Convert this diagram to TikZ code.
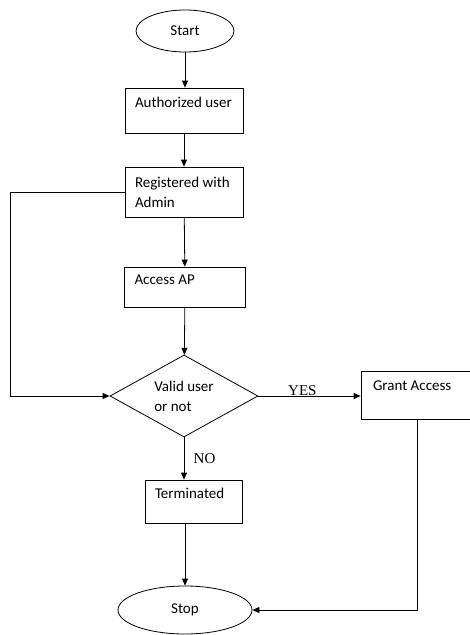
\documentclass[tikz,border=0pt]{standalone}
\usepackage{fontspec}
\setmainfont{Carlito}
\newfontfamily\yesnofont{Liberation Serif}
\usetikzlibrary{shapes.geometric, arrows.meta}

\begin{document}
\begin{tikzpicture}[x=1pt, y=-1pt,
          every node/.style={font=\fontsize{15}{20}\selectfont},
          term/.style={ellipse, draw, line width=0.8pt, inner sep=0pt},
          box/.style={rectangle, draw, line width=0.8pt, align=flush left,
                      inner xsep=10pt, inner ysep=0pt},
          decide/.style={diamond, draw, line width=0.8pt, align=flush left,
                         inner sep=0pt, shape aspect=1.8},
          arr/.style={-{Triangle[length=7pt, width=6pt]}, line width=0.8pt},
          yesno/.style={font=\yesnofont\fontsize{15}{18}\selectfont}
        ]
        \clip (0,0) rectangle (470,635);
        % main column
        \node[term, minimum width=98pt, minimum height=42pt] (start) at (185, 31) {Start};
        \node[box, text width=98pt, minimum height=45pt] (auth) at (184, 110.5) {Authorized~user\\[-4pt]~};
        \node[box, text width=98pt, minimum height=50pt] (reg) at (184, 192) {Registered~with\\Admin};
        \node[box, text width=101pt, minimum height=40pt] (access) at (185, 287) {Access AP\\[-6pt]~};
        \node[decide, minimum width=148pt, minimum height=82pt] (valid) at (184, 396) {Valid~user\\or not};
        \node[box, text width=88pt, minimum height=48pt, inner xsep=12pt] (grant) at (417, 395) {Grant~Access\\[-2pt]~};
        \node[box, text width=77pt, minimum height=43pt] (stopped) at (193.5, 501.5) {Terminated\\[-4pt]~};
        \node[term, minimum width=134pt, minimum height=48pt] (stop) at (185, 610) {Stop};

        \draw[arr] (start.south) -- (start.south |- auth.north);
        \draw[arr] (auth) -- (reg);
        \draw[arr] (reg) -- (access);
        \draw[arr] (access) -- (valid);
        \draw[arr] (reg.west) -- ++(-114,0) |- (valid.west);
        \draw[arr] (valid.east) -- node[pos=0.43, above=-3pt, yesno] (yes) {YES} (valid.east -| grant.west);
        \draw[arr] (valid.south) -- node[midway, right=6pt, yesno] (no) {NO} (valid.south |- stopped.north);
        \draw[arr] (stopped.south -| stop.north) -- (stop.north);
        \draw[arr] (grant.south) |- (stop.east);
      \end{tikzpicture}
\end{document}
